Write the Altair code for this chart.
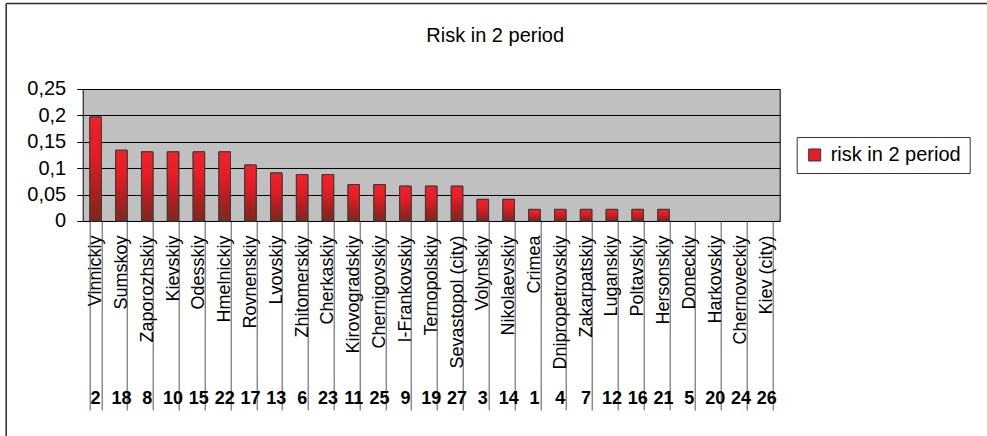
import altair as alt
import pandas as pd

# Regions in display order, their risk values and their rank numbers
regions = [
    "Vinnickiy", "Sumskoy", "Zaporozhskiy", "Kievskiy", "Odesskiy", "Hmelnickiy",
    "Rovnenskiy", "Lvovskiy", "Zhitomerskiy", "Cherkaskiy", "Kirovogradskiy",
    "Chernigovskiy", "I-Frankovskiy", "Ternopolskiy", "Sevastopol (city)",
    "Volynskiy", "Nikolaevskiy", "Crimea", "Dnipropetrovskiy", "Zakarpatskiy",
    "Luganskiy", "Poltavskiy", "Hersonskiy", "Doneckiy", "Harkovskiy",
    "Chernoveckiy", "Kiev (city)",
]
risk = [
    0.197, 0.134, 0.131, 0.131, 0.131, 0.131,
    0.106, 0.091, 0.088, 0.088, 0.069,
    0.069, 0.066, 0.066, 0.066,
    0.041, 0.041, 0.022, 0.022, 0.022,
    0.022, 0.022, 0.022, 0.0, 0.0,
    0.0, 0.0,
]
ranks = [
    2, 18, 8, 10, 15, 22,
    17, 13, 6, 23, 11,
    25, 9, 19, 27,
    3, 14, 1, 4, 7,
    12, 16, 21, 5, 20,
    24, 26,
]
series_name = "risk in 2 period"
y_ticks = [0, 0.05, 0.1, 0.15, 0.2, 0.25]

df = pd.DataFrame({"region": regions, "risk": risk, "rank": ranks})
df["series"] = series_name

FONT = "Liberation Sans"

x_enc = alt.X(
    "region:N",
    sort=regions,
    scale=alt.Scale(paddingInner=0.554, paddingOuter=0.277),
    axis=alt.Axis(
        title=None,
        labelAngle=-90,
        labelAlign="right",
        labelBaseline="middle",
        labelFontSize=18,
        labelColor="#000",
        labelPadding=-175,
        labelOverlap=False,
        labelLimit=400,
        tickBand="extent",
        tickSize=189,
        tickColor="#555",
        tickWidth=1,
        domainColor="#000",
        domainWidth=1,
        grid=False,
    ),
)
y_enc = alt.Y(
    "risk:Q",
    scale=alt.Scale(domain=[0, 0.25], nice=False),
    axis=alt.Axis(
        title=None,
        values=y_ticks,
        labelExpr="replace(format(datum.value, '.2~f'), '.', ',')",
        labelFontSize=20,
        labelColor="#000",
        labelPadding=11,
        tickColor="#000",
        tickSize=6,
        domain=False,
        grid=True,
        gridColor="#000",
        gridWidth=1,
    ),
)

bar_gradient = alt.Gradient(
    gradient="linear",
    x1=0, x2=0, y1=0, y2=1,
    stops=[
        alt.GradientStop(offset=0, color="#f0222b"),
        alt.GradientStop(offset=0.35, color="#e61c25"),
        alt.GradientStop(offset=0.75, color="#a5201f"),
        alt.GradientStop(offset=1, color="#7d2a1c"),
    ],
)

base = alt.Chart(df)
nonzero = base.transform_filter("datum.risk > 0")

# Outer border of the chart area: top and left edges
border = alt.Chart(alt.Data(values=[{"f": 1}]))
frame_top = border.mark_rule(stroke="#2b2b2b", strokeWidth=1.5).encode(
    x=alt.value(-76.5), x2=alt.value(904.3), y=alt.value(-85.5)
)
frame_left = border.mark_rule(stroke="#2b2b2b", strokeWidth=1.5).encode(
    x=alt.value(-76.5), y=alt.value(-85.5), y2=alt.value(347)
)

# Plain bars carrying the legend
legend_bars = nonzero.mark_bar(stroke="#333", strokeWidth=1).encode(
    x=x_enc,
    y=y_enc,
    color=alt.Color(
        "series:N",
        scale=alt.Scale(range=["#e3202a"]),
        legend=alt.Legend(
            title=None,
            orient="none",
            legendX=714,
            legendY=48,
            fillColor="#fff",
            strokeColor="#333",
            padding=8,
            labelFontSize=20,
            labelColor="#000",
            labelOffset=6,
            symbolType="square",
            symbolSize=144,
            symbolStrokeColor="#333",
            symbolStrokeWidth=1,
            symbolOpacity=1,
        ),
    ),
)

# Shaded bars drawn on top
grad_bars = nonzero.mark_bar(fill=bar_gradient, stroke="#3a3a3a", strokeWidth=1).encode(
    x=x_enc,
    y=y_enc,
)

# Rank numbers under each region name
numbers = base.mark_text(
    fontSize=18, fontWeight="bold", color="#000", align="center", baseline="middle"
).encode(
    x=x_enc,
    y=alt.value(310),
    text="rank:N",
)

chart = alt.layer(frame_top, frame_left, legend_bars, grad_bars, numbers).properties(
    width=697,
    height=132,
    title=alt.TitleParams(
        "Risk in 2 period",
        fontSize=20,
        fontWeight="normal",
        color="#000",
        anchor="middle",
        frame="group",
        baseline="bottom",
        dx=64,
        offset=-63,
    ),
    padding={"left": 82.7, "top": 89, "right": 207.3, "bottom": 215.3},
    autosize=alt.AutoSizeParams(type="none"),
    background="#fff",
).configure(
    font=FONT,
).configure_view(
    fill="#c0c0c0",
    stroke="#000",
    strokeWidth=1,
)

chart.save("out.html", embed_options={"renderer": "svg", "actions": False})
